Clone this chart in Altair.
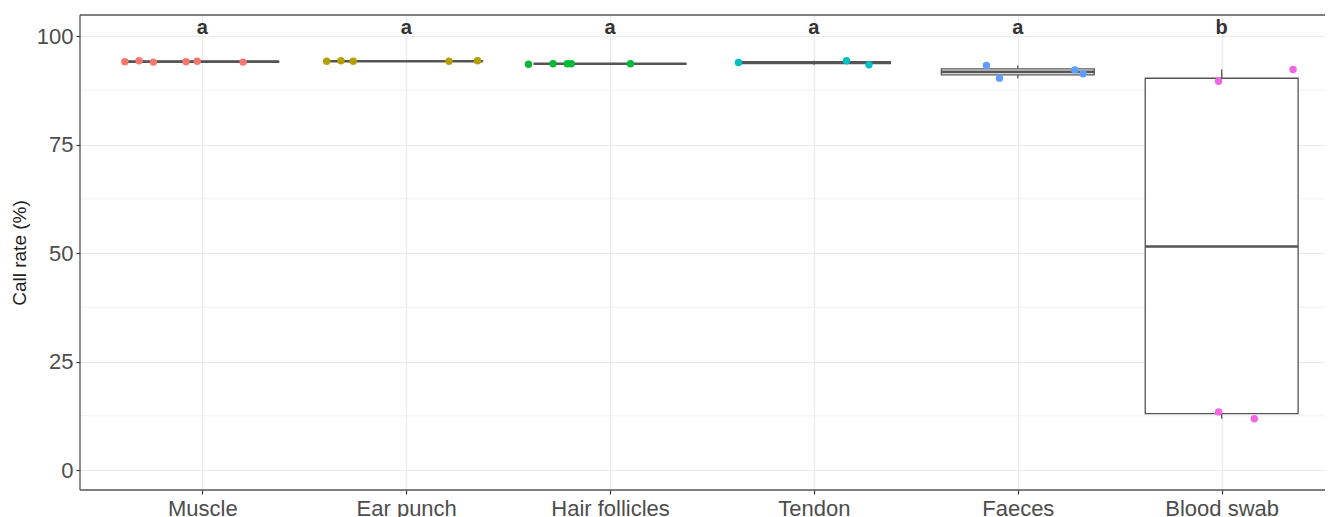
import altair as alt
import numpy as np
import pandas as pd

# ---- data ----
categories = ["Muscle", "Ear punch", "Hair follicles", "Tendon", "Faeces", "Blood swab"]
letters = ["a", "a", "a", "a", "a", "b"]
colors = ["#F8766D", "#B79F00", "#00BA38", "#00BFC4", "#619CFF", "#F564E3"]

muscle = [94.1, 94.3, 94.0, 94.1, 94.2, 94.0]
ear_punch = [94.2, 94.3, 94.2, 94.2, 94.3]
hair_follicles = [93.5, 93.6, 93.6, 93.6, 93.6]
tendon = [93.9, 94.3, 93.4]
faeces = [93.2, 90.3, 92.2, 91.3]
blood_swab = [89.6, 92.3, 13.4, 11.8]

# horizontal jitter (in category units)
muscle_jit = [-0.38, -0.31, -0.24, -0.08, -0.025, 0.20]
ear_punch_jit = [-0.39, -0.32, -0.26, 0.21, 0.35]
hair_follicles_jit = [-0.40, -0.28, -0.21, -0.19, 0.10]
tendon_jit = [-0.37, 0.16, 0.27]
faeces_jit = [-0.154, -0.09, 0.28, 0.32]
blood_swab_jit = [-0.015, 0.35, -0.015, 0.16]

y_ticks = [0, 25, 50, 75, 100]
y_minor = [12.5, 37.5, 62.5, 87.5]
letter_y = 100.5

values = [muscle, ear_punch, hair_follicles, tendon, faeces, blood_swab]
jitters = [muscle_jit, ear_punch_jit, hair_follicles_jit, tendon_jit, faeces_jit, blood_swab_jit]

# ---- tables ----
pts_rows = []
box_rows = []
for i, (cat, vals, jit) in enumerate(zip(categories, values, jitters)):
    idx = i + 1
    for v, j in zip(vals, jit):
        pts_rows.append({"cat": cat, "idx": idx, "xj": idx + j, "value": v})
    arr = np.array(vals)
    q1, med, q3 = np.percentile(arr, [25, 50, 75])
    iqr = q3 - q1
    lo = arr[arr >= q1 - 1.5 * iqr].min()
    hi = arr[arr <= q3 + 1.5 * iqr].max()
    box_rows.append({"cat": cat, "idx": idx, "q1": q1, "med": med, "q3": q3,
                     "lo": lo, "hi": hi, "letter": letters[i], "ly": letter_y})
pts = pd.DataFrame(pts_rows)
box = pd.DataFrame(box_rows)
minor = pd.DataFrame({"y": y_minor})

label_expr = "[" + ",".join("'" + c + "'" for c in categories) + "][datum.value - 1]"

PANEL_W = 1264   # full panel width (right part runs off the page, as in the reference)
PANEL_H = 475
VIEW_W = 1245

xscale = alt.Scale(domain=[0.4, 6.6], range=[0, PANEL_W], nice=False, zero=False)
yscale = alt.Scale(domain=[-4.6, 104.85], nice=False, zero=False)

x_axis = alt.Axis(values=list(range(1, len(categories) + 1)), labelExpr=label_expr,
                  title=None, grid=True, domain=False)
y_axis = alt.Axis(values=y_ticks, title="Call rate (%)", grid=True, domain=False)

BOXW = 0.375
GREY = "#555555"
BORDER = "#555555"

minor_grid = alt.Chart(minor).mark_rule(color="#EEEEEE", strokeWidth=0.8).encode(
    y=alt.Y("y:Q", scale=yscale, axis=y_axis)
)

# panel border (top, bottom, left); the right side is off the page
border_df = pd.DataFrame({"k": [0]})
b_top = alt.Chart(border_df).mark_rule(color=BORDER, strokeWidth=1.3).encode(
    x=alt.value(0), x2=alt.value(PANEL_W), y=alt.value(0))
b_bot = alt.Chart(border_df).mark_rule(color=BORDER, strokeWidth=1.3).encode(
    x=alt.value(0), x2=alt.value(PANEL_W), y=alt.value(PANEL_H))
b_left = alt.Chart(border_df).mark_rule(color=BORDER, strokeWidth=1.3).encode(
    x=alt.value(0), y=alt.value(0), y2=alt.value(PANEL_H))

base_box = alt.Chart(box).transform_calculate(
    xl=f"datum.idx - {BOXW}", xr=f"datum.idx + {BOXW}"
)

whisk_lo = base_box.mark_rule(color=GREY, strokeWidth=1.3).encode(
    x=alt.X("idx:Q", scale=xscale, axis=x_axis),
    y=alt.Y("lo:Q", scale=yscale), y2="q1:Q")
whisk_hi = base_box.mark_rule(color=GREY, strokeWidth=1.3).encode(
    x=alt.X("idx:Q", scale=xscale), y=alt.Y("q3:Q", scale=yscale), y2="hi:Q")

rects = base_box.mark_rect(fill="white", stroke=GREY, strokeWidth=1.3).encode(
    x=alt.X("xl:Q", scale=xscale), x2="xr:Q",
    y=alt.Y("q1:Q", scale=yscale), y2="q3:Q")

medians = base_box.mark_rule(color=GREY, strokeWidth=2.6).encode(
    x=alt.X("xl:Q", scale=xscale), x2="xr:Q",
    y=alt.Y("med:Q", scale=yscale))

points = alt.Chart(pts).mark_circle(size=55, opacity=1).encode(
    x=alt.X("xj:Q", scale=xscale),
    y=alt.Y("value:Q", scale=yscale),
    color=alt.Color("cat:N", scale=alt.Scale(domain=categories, range=colors), legend=None),
)

texts = alt.Chart(box).mark_text(fontSize=20, fontWeight="bold", color="#333333",
                                 baseline="alphabetic", font="Liberation Sans").encode(
    x=alt.X("idx:Q", scale=xscale),
    y=alt.Y("ly:Q", scale=yscale),
    text="letter:N",
)

chart = alt.layer(minor_grid, whisk_lo, whisk_hi, rects, medians, points, texts,
                  b_top, b_bot, b_left).properties(
    width=VIEW_W, height=PANEL_H,
    autosize=alt.AutoSizeParams(type="none"),
    padding={"left": 72, "top": 7, "right": 0, "bottom": 27},
).configure_view(
    stroke=None
).configure_axis(
    labelFont="Liberation Sans", titleFont="Liberation Sans",
    labelFontSize=22, labelColor="#4D4D4D",
    tickColor="#333333", tickSize=4, tickWidth=1.2,
    labelPadding=3,
    gridColor="#EBEBEB", gridWidth=1.2,
).configure_axisY(
    titleFontSize=19, titleFontWeight="normal", titleColor="#222222", titlePadding=7,
).configure_axisX(
    labelPadding=4,
)

chart.save("out.html", embed_options={"renderer": "svg", "actions": False})
